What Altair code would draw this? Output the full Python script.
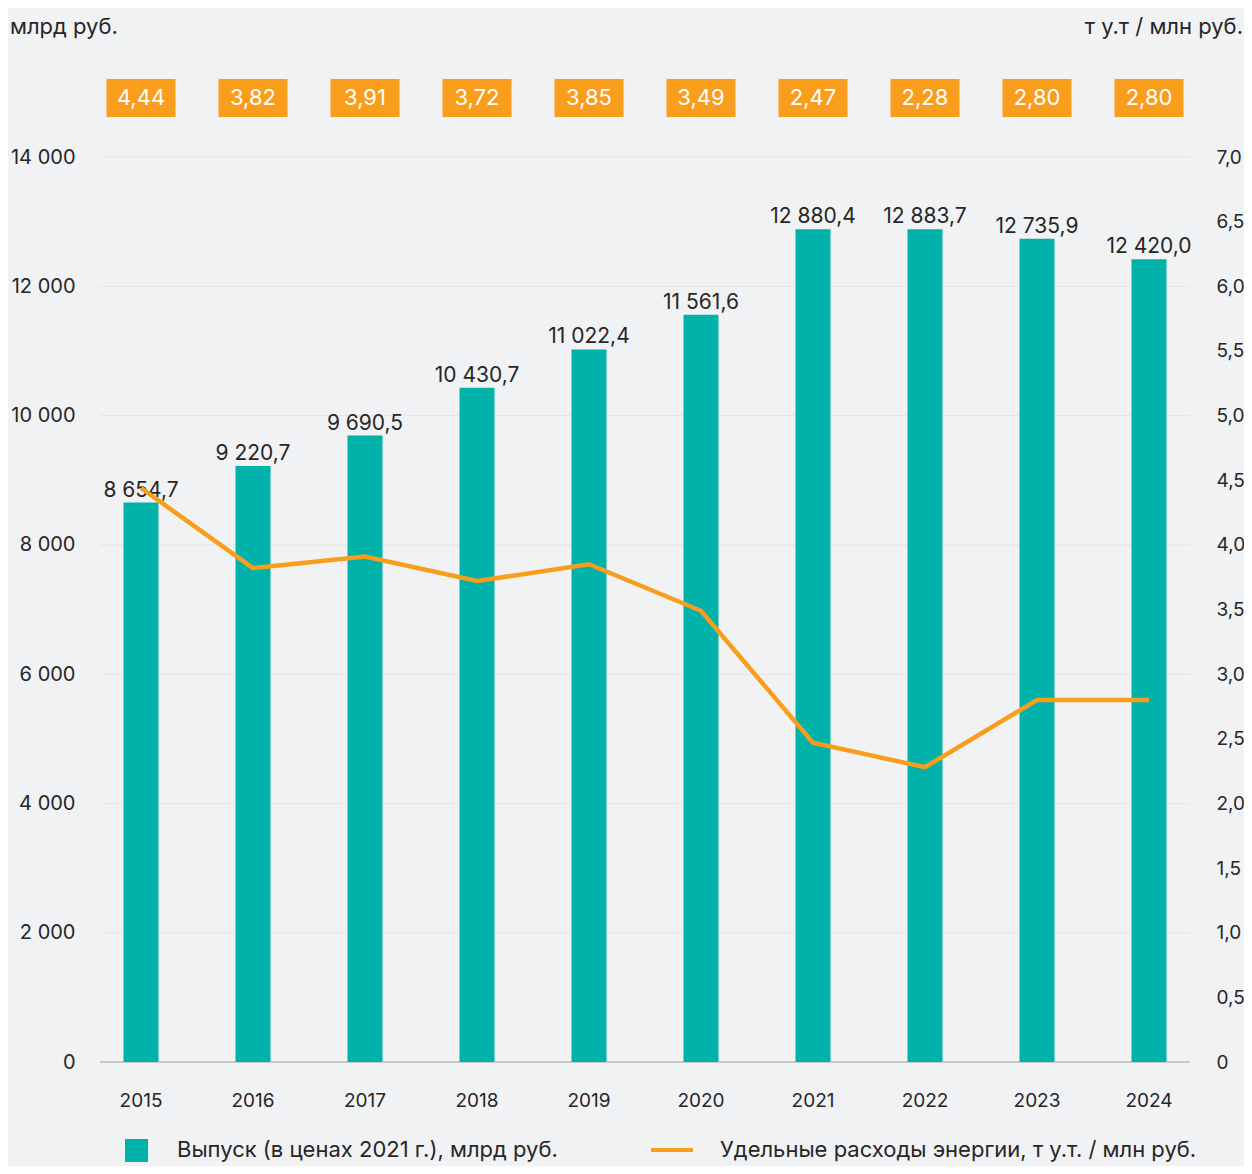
import altair as alt
import pandas as pd

years = ["2015", "2016", "2017", "2018", "2019", "2020", "2021", "2022", "2023", "2024"]
output_bn = [8654.7, 9220.7, 9690.5, 10430.7, 11022.4, 11561.6, 12880.4, 12883.7, 12735.9, 12420.0]
energy_intensity = [4.44, 3.82, 3.91, 3.72, 3.85, 3.49, 2.47, 2.28, 2.80, 2.80]
left_ticks = [0, 2000, 4000, 6000, 8000, 10000, 12000, 14000]
right_ticks = [0, 0.5, 1.0, 1.5, 2.0, 2.5, 3.0, 3.5, 4.0, 4.5, 5.0, 5.5, 6.0, 6.5, 7.0]
left_title = "млрд руб."
right_title = "т у.т / млн руб."
legend_bar = "Выпуск (в ценах 2021 г.), млрд руб."
legend_line = "Удельные расходы энергии, т у.т. / млн руб."

TEAL = "#00b2a9"
ORANGE = "#f99d1c"
TEXT = "#262626"
FONT = "Inter"
W, H = 1120, 905


def fmt_out(v):
    return f"{v:,.1f}".replace(",", " ").replace(".", ",")


def fmt_en(v):
    return f"{v:.2f}".replace(".", ",")


df = pd.DataFrame({
    "year": years,
    "output": output_bn,
    "energy": energy_intensity,
    "out_label": [fmt_out(v) for v in output_bn],
    "en_label": [fmt_en(v) for v in energy_intensity],
})
grid_df = pd.DataFrame({"v": left_ticks[1:]})
base_df = pd.DataFrame({"v": [0]})
text_df = pd.DataFrame({"t": [left_title, right_title, legend_bar, legend_line]})

xscale = alt.Scale(domain=years, paddingInner=0.6875, paddingOuter=0.34375)
yL = alt.Scale(domain=[0, 14000], zero=True, nice=False)
yR = alt.Scale(domain=[0, 7], zero=True, nice=False)

x_axis = alt.Axis(title=None, labelAngle=0, labelFontSize=19, labelPadding=29,
                  labelColor=TEXT, labelFont=FONT, domain=False, ticks=False,
                  grid=False, orient="bottom")
x_enc = alt.X("year:N", scale=xscale, sort=years, axis=x_axis)

grid = alt.Chart(grid_df).mark_rule(color="#e4e5e8", strokeWidth=1).encode(
    y=alt.Y("v:Q", scale=yL, axis=None), x=alt.value(15), x2=alt.value(1105))
baseline = alt.Chart(base_df).mark_rule(color="#c8c9cc", strokeWidth=2).encode(
    y=alt.Y("v:Q", scale=yL, axis=None), x=alt.value(15), x2=alt.value(1105))

bars = alt.Chart(df).mark_bar(color=TEAL).encode(
    x=x_enc,
    y=alt.Y("output:Q", scale=yL,
            axis=alt.Axis(title=None, values=left_ticks, orient="left",
                          labelExpr="replace(format(datum.value, ','), ',', ' ')",
                          labelFontSize=20, labelPadding=10, labelColor=TEXT, labelFont=FONT,
                          domain=False, ticks=False, grid=False)))

bar_labels = alt.Chart(df).mark_text(fontSize=21, color=TEXT, font=FONT, dy=-6,
                                     baseline="alphabetic").encode(
    x=x_enc, y=alt.Y("output:Q", scale=yL, axis=None), text="out_label:N")

line = alt.Chart(df).mark_line(color=ORANGE, strokeWidth=4.5).encode(
    x=x_enc,
    y=alt.Y("energy:Q", scale=yR,
            axis=alt.Axis(title=None, values=right_ticks, orient="right",
                          labelExpr="datum.value == 0 ? '0' : replace(format(datum.value, '.1f'), '.', ',')",
                          labelFontSize=19, labelPadding=11, labelColor=TEXT, labelFont=FONT,
                          domain=False, ticks=False, grid=False)))

boxes = alt.Chart(df).mark_bar(color=ORANGE, size=69).encode(
    x=x_enc, y=alt.value(-78), y2=alt.value(-40))
box_text = alt.Chart(df).mark_text(fontSize=22, color="white", font=FONT,
                                   baseline="middle").encode(
    x=x_enc, y=alt.value(-59), text="en_label:N")

t_left = alt.Chart(text_df).transform_filter(alt.datum.t == left_title).mark_text(
    fontSize=22, color=TEXT, font=FONT, align="left", baseline="middle").encode(
    x=alt.value(-75), y=alt.value(-130), text="t:N")
t_right = alt.Chart(text_df).transform_filter(alt.datum.t == right_title).mark_text(
    fontSize=22, color=TEXT, font=FONT, align="right", baseline="middle").encode(
    x=alt.value(1158), y=alt.value(-130), text="t:N")

LEG_Y = 993
leg_sq = alt.Chart(base_df).mark_rect(color=TEAL).encode(
    x=alt.value(40), x2=alt.value(63), y=alt.value(LEG_Y - 11), y2=alt.value(LEG_Y + 12))
leg_ln = alt.Chart(base_df).mark_rule(color=ORANGE, strokeWidth=4).encode(
    x=alt.value(566), x2=alt.value(608), y=alt.value(LEG_Y))
leg_t1 = alt.Chart(text_df).transform_filter(alt.datum.t == legend_bar).mark_text(
    fontSize=22, color=TEXT, font=FONT, align="left", baseline="middle").encode(
    x=alt.value(92), y=alt.value(LEG_Y), text="t:N")
leg_t2 = alt.Chart(text_df).transform_filter(alt.datum.t == legend_line).mark_text(
    fontSize=22, color=TEXT, font=FONT, align="left", baseline="middle").encode(
    x=alt.value(635), y=alt.value(LEG_Y), text="t:N")

chart = alt.layer(
    grid, baseline, bars, bar_labels, line, boxes, box_text,
    t_left, t_right, leg_sq, leg_ln, leg_t1, leg_t2
).resolve_scale(y="independent").properties(
    width=W, height=H,
    background="#f1f2f4",
    autosize=alt.AutoSizeParams(type="none"),
    padding={"left": 77, "top": 149, "right": 39, "bottom": 104},
).configure_view(stroke=None)

chart.save("out.html", embed_options={"renderer": "svg", "actions": False})
